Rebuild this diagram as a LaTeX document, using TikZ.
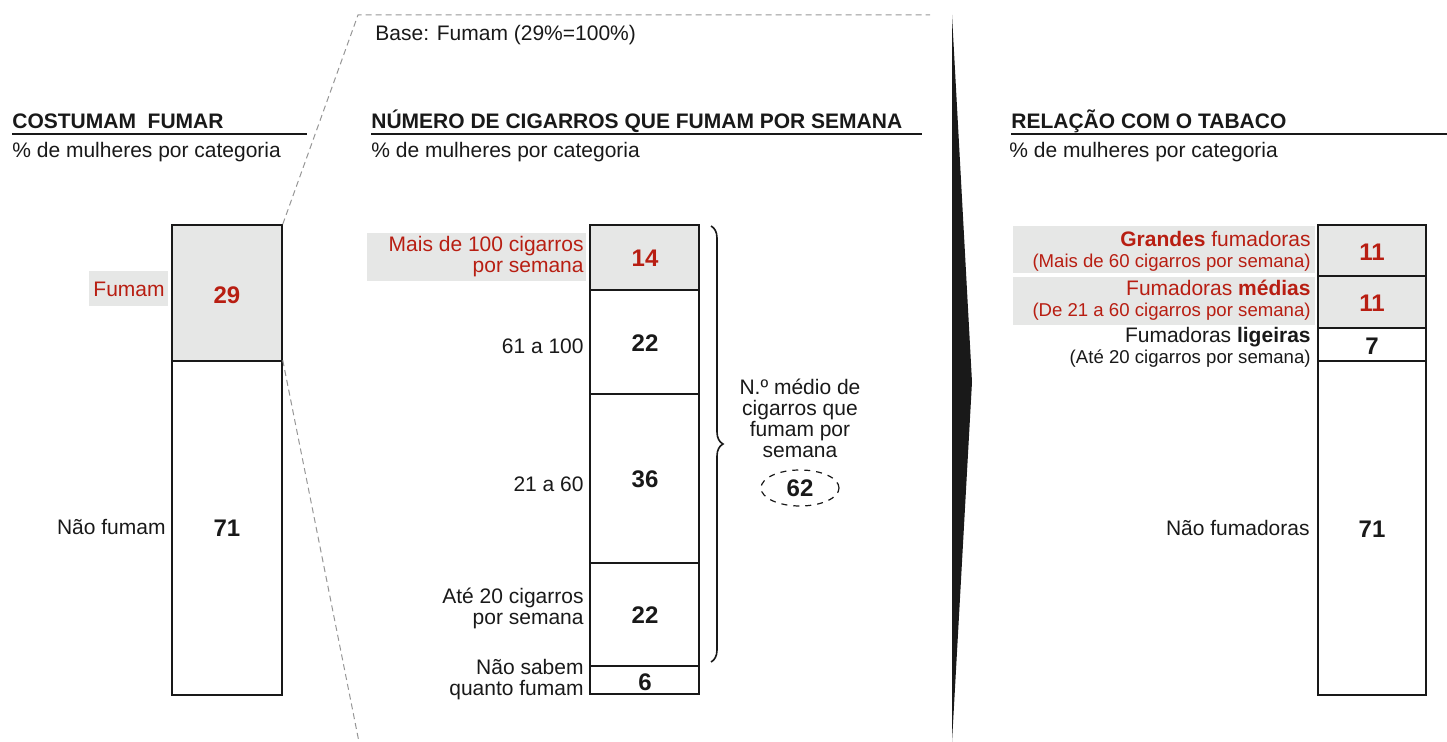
\documentclass[tikz,border=0pt]{standalone}
\usepackage{fontspec}
\setmainfont{Liberation Sans}
\usetikzlibrary{shapes.geometric,decorations.pathreplacing}
\definecolor{myred}{RGB}{184,30,18}
\definecolor{bggray}{RGB}{230,231,230}
\definecolor{dashgray}{RGB}{150,150,150}
\definecolor{ink}{RGB}{25,25,25}
\newcommand{\smfnt}{\fontsize{9.3}{10.5}\selectfont}
\begin{document}
\begin{tikzpicture}[x=0.5pt,y=-0.5pt,
  txt/.style={font=\fontsize{10.5}{10.5}\selectfont, inner sep=0, text=ink},
  lbl/.style={txt, align=right, anchor=east},
  ttl/.style={font=\fontsize{10.5}{10.5}\selectfont\bfseries, inner sep=0, anchor=base west, text=ink},
  num/.style={font=\fontsize{12}{12}\selectfont\bfseries},
  seg/.style={draw=ink, line width=0.75pt, inner sep=0, text=ink},
  gbg/.style={fill=bggray, inner sep=0},
  zoomline/.style={draw=dashgray, line width=0.5pt, dash pattern=on 3pt off 2pt},
  uline/.style={draw=ink, line width=0.9pt}]
\useasboundingbox (0,0) rectangle (1447,742);

% ---------- left column ----------
\node[ttl] (t1) at (12,129) {COSTUMAM\ \ FUMAR};
\draw[uline] (12,134) -- (307,134);
\node[txt, anchor=base west] (s1) at (12,158) {\% de mulheres por categoria};

\node[seg, fill=bggray, minimum width=55pt, minimum height=68pt] (lb1) at (227,293) {};
\node[seg, minimum width=55pt, minimum height=167pt] (lb2) at (227,528) {};
\node[num, text=myred] (v29) at (227,295) {29};
\node[num, text=ink] (v71a) at (227,528) {71};

\node[gbg, minimum width=39.5pt, minimum height=17.5pt] (bgf) at (128.5,288.5) {};
\node[lbl, text=myred] (lfum) at (165,289) {Fumam};
\node[lbl] (lnf) at (166,527) {Não fumam};

% zoom lines
\coordinate (ztop) at (358,15);
\coordinate (zend) at (930,15);
\coordinate (zbot) at (359,742);
\draw[zoomline] (lb1.north east) -- (ztop) -- (zend);
\draw[zoomline] (lb2.north east) -- (zbot);

% ---------- middle column ----------
\node[txt, anchor=base west] (base) at (375,41) {Base: Fumam (29\%=100\%)};
\node[ttl] (t2) at (371,129) {NÚMERO DE CIGARROS QUE FUMAM POR SEMANA};
\draw[uline] (371,134) -- (922,134);
\node[txt, anchor=base west] (s2) at (371,158) {\% de mulheres por categoria};

\node[seg, fill=bggray, minimum width=54.5pt, minimum height=32.5pt] (m1) at (644.5,257.5) {};
\node[seg, minimum width=54.5pt, minimum height=52pt] (m2) at (644.5,342) {};
\node[seg, minimum width=54.5pt, minimum height=84.5pt] (m3) at (644.5,478.5) {};
\node[seg, minimum width=54.5pt, minimum height=51.5pt] (m4) at (644.5,614.5) {};
\node[seg, minimum width=54.5pt, minimum height=14pt] (m5) at (644.5,680) {};
\node[num, text=myred] (v14) at (645,258) {14};
\node[num, text=ink] (v22a) at (645,343) {22};
\node[num, text=ink] (v36) at (645,479) {36};
\node[num, text=ink] (v22b) at (645,615) {22};
\node[num, text=ink] (v6) at (645,682) {6};

\node[gbg, minimum width=109.5pt, minimum height=24pt] (bgm) at (476.5,257) {};
\node[lbl, text=myred] (l100) at (584,257) {Mais de 100 cigarros\\por semana};
\node[lbl] (l61) at (584,346) {61 a 100};
\node[lbl] (l21) at (584,484) {21 a 60};
\node[lbl] (l20) at (584,608) {Até 20 cigarros\\por semana};
\node[lbl] (lns) at (584,680) {Não sabem\\quanto fumam};

\coordinate (brt) at (711,226);
\coordinate (brb) at (711,662);
\draw[ink, line width=0.8pt, decorate, decoration={brace, amplitude=6pt}] (brt) -- (brb);
\node[txt, align=center] (media) at (800,418) {N.º médio de\\cigarros que\\fumam por\\semana};
\node[ellipse, draw=ink, dashed, line width=0.6pt, minimum width=39pt, minimum height=18pt, inner sep=0, num, text=ink] (v62) at (800,488) {62};

% divider spike
\fill[ink] (952,15) -- (972,382) -- (952,742) -- cycle;

% ---------- right column ----------
\node[ttl] (t3) at (1011,129) {RELAÇÃO COM O TABACO};
\draw[uline] (1011,134) -- (1447,134);
\node[txt, anchor=base west] (s3) at (1009,158) {\% de mulheres por categoria};

\node[gbg, minimum width=151pt, minimum height=23.5pt] (bgg) at (1164,249.5) {};
\node[gbg, minimum width=151pt, minimum height=24pt] (bgmd) at (1164,301) {};

\node[seg, fill=bggray, minimum width=54pt, minimum height=25.5pt] (r1) at (1372,250.5) {};
\node[seg, fill=bggray, minimum width=54pt, minimum height=26pt] (r2) at (1372,302) {};
\node[seg, minimum width=54pt, minimum height=16.5pt] (r3) at (1372,344.5) {};
\node[seg, minimum width=54pt, minimum height=167pt] (r4) at (1372,528) {};
\node[num, text=myred] (v11a) at (1372,252) {11};
\node[num, text=myred] (v11b) at (1372,303) {11};
\node[num, text=ink] (v7) at (1372,346) {7};
\node[num, text=ink] (v71b) at (1372,529) {71};

\node[lbl, text=myred] (lg) at (1311,251) {\textbf{Grandes} fumadoras\\{\smfnt(Mais de 60 cigarros por semana)}};
\node[lbl, text=myred] (lm) at (1311,300) {Fumadoras \textbf{médias}\\{\smfnt(De 21 a 60 cigarros por semana)}};
\node[lbl] (ll) at (1311,347) {Fumadoras \textbf{ligeiras}\\{\smfnt(Até 20 cigarros por semana)}};
\node[lbl] (lnfr) at (1310,528) {Não fumadoras};
\end{tikzpicture}
\end{document}
